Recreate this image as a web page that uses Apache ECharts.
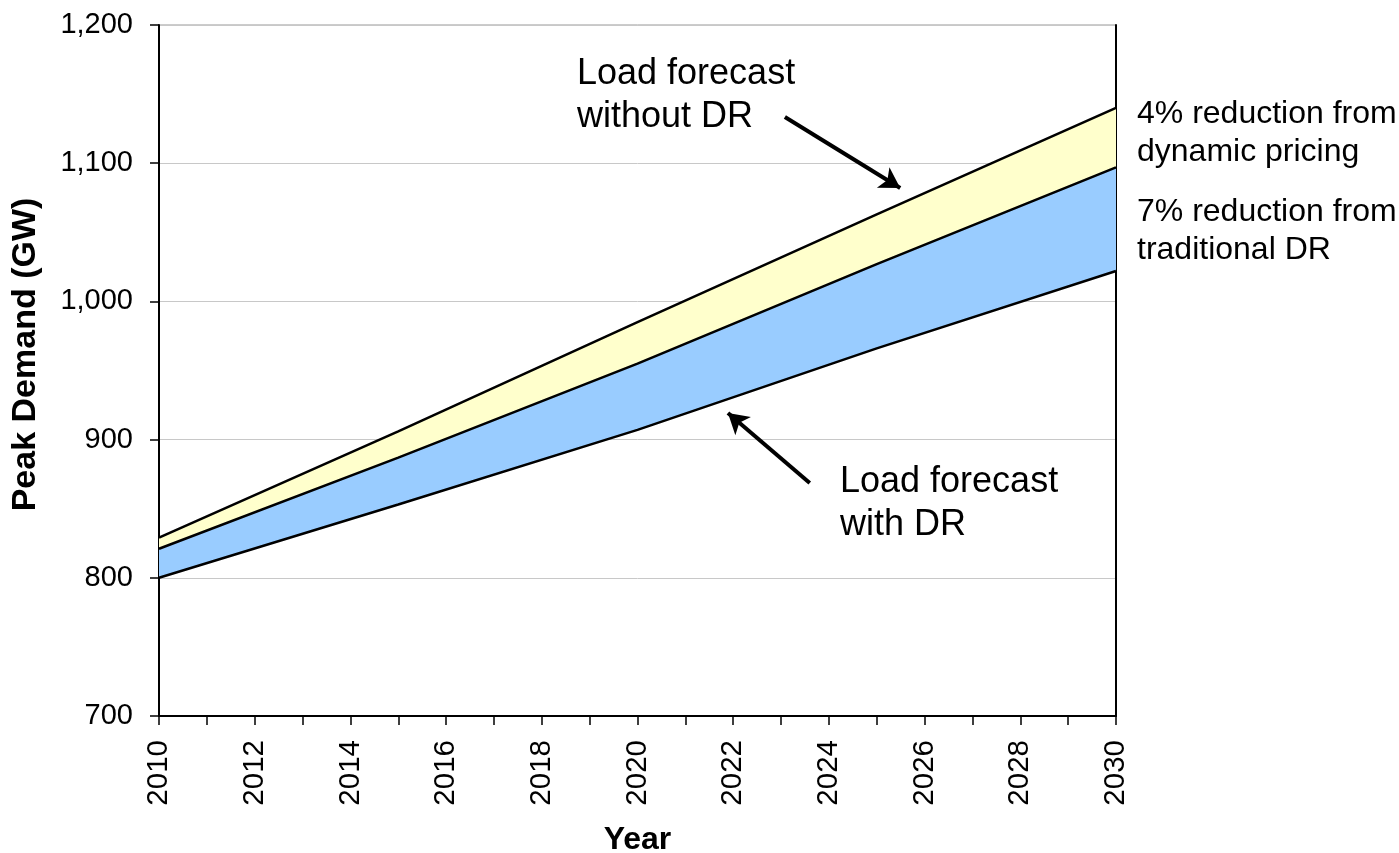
<!DOCTYPE html>
<html>
<head>
<meta charset="utf-8">
<script src="https://cdn.jsdelivr.net/npm/echarts@6/dist/echarts.min.js"></script>
<style>
html,body{margin:0;padding:0;background:#fff;}
#chart{width:1399px;height:853px;}
</style>
</head>
<body>
<div id="chart"></div>
<script>
// Data
const categories = ['2010','2011','2012','2013','2014','2015','2016','2017','2018','2019','2020',
                    '2021','2022','2023','2024','2025','2026','2027','2028','2029','2030'];
const years = ['2010', '2015', '2020', '2025', '2030'];
const withoutDR = [829, 906, 985, 1063, 1140];     // load forecast without DR
const afterPricing = [821, 887, 955, 1027, 1097];  // after 4% dynamic pricing reduction
const withDR = [800, 853, 907, 966, 1022];         // load forecast with DR
const yTicks = [700, 800, 900, 1000, 1100, 1200];

// Annotation arrows (year, value)
const arrowWithout = [[2023.08, 1133.4], [2025.49, 1082.1]];
const arrowWith = [[2023.6, 868.6], [2021.89, 919.2]];

const font = 'Liberation Sans, Arial, sans-serif';

const basePairs = years.map((y, i) => [y, withDR[i]]);
const blueBand = years.map((y, i) => [y, afterPricing[i] - withDR[i]]);
const yellowBand = years.map((y, i) => [y, withoutDR[i] - afterPricing[i]]);
const numericBase = years.map((y, i) => [Number(y), withDR[i]]);

const chart = echarts.init(document.getElementById('chart'), null, {renderer: 'canvas'});

const lineStyle = {color: '#000', width: 2.5};

chart.setOption({
  animation: false,
  backgroundColor: '#fff',
  grid: {left: 159, right: 283, top: 25, bottom: 137, containLabel: false, outerBoundsMode: 'none',
         show: true, borderColor: '#999', borderWidth: 1, backgroundColor: 'transparent'},
  xAxis: [{
    type: 'category', data: categories, boundaryGap: false,
    name: 'Year', nameLocation: 'middle', nameGap: 108,
    nameTextStyle: {fontFamily: font, fontSize: 32, fontWeight: 'bold', color: '#000'},
    axisLine: {show: true, lineStyle: {color: '#000', width: 2}},
    axisTick: {show: true, interval: 0, length: 9, lineStyle: {color: '#000', width: 1.5}},
    axisLabel: {rotate: 90, interval: 1, margin: 24, fontFamily: font, fontSize: 29.5, color: '#000'},
    splitLine: {show: false}
  }, {
    type: 'value', min: 2010, max: 2030, show: false, position: 'top'
  }],
  yAxis: [{
    type: 'value', min: yTicks[0], max: yTicks[yTicks.length - 1], interval: 100,
    name: 'Peak Demand (GW)', nameLocation: 'middle', nameGap: 116,
    nameTextStyle: {fontFamily: font, fontSize: 34, fontWeight: 'bold', color: '#000', padding: [0, 0, 0, 32]},
    axisLine: {show: true, lineStyle: {color: '#000', width: 2}},
    axisTick: {show: true, length: 9, lineStyle: {color: '#000', width: 1.5}},
    axisLabel: {margin: 26, fontFamily: font, fontSize: 29, color: '#000',
      formatter: v => v.toLocaleString('en-US')},
    splitLine: {show: true, lineStyle: {color: '#c8c8c8', width: 1}}
  }, {
    type: 'value', position: 'right', min: yTicks[0], max: yTicks[yTicks.length - 1], interval: 100,
    axisLine: {show: true, lineStyle: {color: '#000', width: 2}},
    axisTick: {show: false}, axisLabel: {show: false}, splitLine: {show: false}
  }],
  series: [
    {
      name: 'With DR', type: 'line', stack: 'load', data: basePairs,
      symbol: 'none', lineStyle: lineStyle, z: 3
    },
    {
      name: 'Traditional DR', type: 'line', stack: 'load', data: blueBand,
      symbol: 'none', lineStyle: lineStyle, areaStyle: {color: '#99ccff', opacity: 1}, z: 2
    },
    {
      name: 'Dynamic pricing', type: 'line', stack: 'load', data: yellowBand,
      symbol: 'none', lineStyle: lineStyle, areaStyle: {color: '#ffffcc', opacity: 1}, z: 2
    },
    {
      name: 'arrows', type: 'line', xAxisIndex: 1, yAxisIndex: 0, data: numericBase,
      symbol: 'none', lineStyle: {opacity: 0}, z: 4, silent: true,
      markLine: {
        silent: true, symbol: ['none', 'arrow'], symbolSize: [18, 20],
        label: {show: false},
        lineStyle: {color: '#000', width: 4, type: 'solid', opacity: 1},
        data: [
          [{coord: arrowWithout[0]}, {coord: arrowWithout[1]}],
          [{coord: arrowWith[0]}, {coord: arrowWith[1]}]
        ]
      }
    }
  ],
  graphic: [
    {type: 'text', left: 577, top: 53, style: {text: 'Load forecast\nwithout DR', font: '36px ' + font, fill: '#000', lineHeight: 43}},
    {type: 'text', left: 840, top: 461, style: {text: 'Load forecast\nwith DR', font: '36px ' + font, fill: '#000', lineHeight: 43}},
    {type: 'text', left: 1137, top: 95, style: {text: '4% reduction from\ndynamic pricing', font: '32px ' + font, fill: '#000', lineHeight: 38}},
    {type: 'text', left: 1137, top: 193, style: {text: '7% reduction from\ntraditional DR', font: '32px ' + font, fill: '#000', lineHeight: 38}}
  ]
});
</script>
</body>
</html>
